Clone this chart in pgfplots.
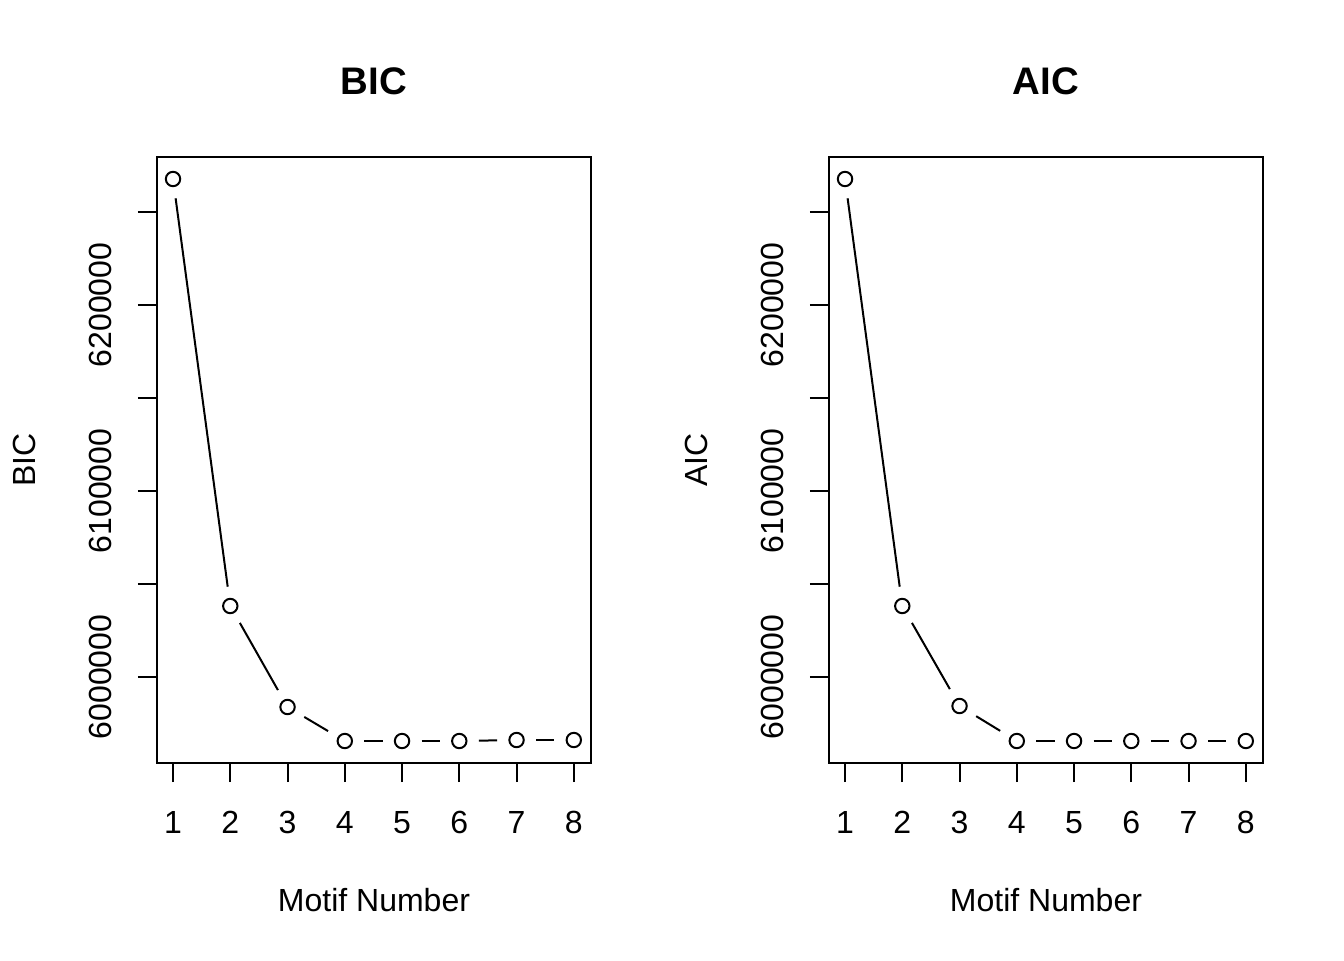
\documentclass[border=0pt]{standalone}
\usepackage{pgfplots}
\pgfplotsset{compat=1.18}
\usepackage{fontspec}
\setmainfont{Liberation Sans}

\pgfplotstableread{
x y
1 6267742
2 6038172
3 5983871
4 5965591
5 5965591
6 5965591
7 5966129
8 5966129
}\bicdata
\pgfplotstableread{
x y
1 6267742
2 6038172
3 5984409
4 5965591
5 5965591
6 5965591
7 5965591
8 5965591
}\aicdata

\pgfplotsset{
  rstyle/.style={
    scale only axis,
    width=162.75pt, height=227.25pt,
    anchor=south west,
    xmin=0.72, xmax=8.30,
    ymin=5953763, ymax=6279570,
    axis on top,
    axis line style={line width=0.75pt, black},
    every tick/.style={line width=0.75pt, black},
    tick align=outside,
    major tick length=7.2pt,
    xtick pos=bottom, ytick pos=left,
    xtick={1,2,3,4,5,6,7,8},
    xticklabels={1,2,3,4,5,6,7,8},
    ytick={6000000,6050000,6100000,6150000,6200000,6250000},
    yticklabels={6000000,,6100000,,6200000,},
    scaled y ticks=false,
    /pgf/number format/assume math mode=true,
    ticklabel style={font=\fontsize{12pt}{14pt}\selectfont},
    xticklabel style={anchor=base},
    xticklabel shift=19.2pt,
    yticklabel style={rotate=90, anchor=base},
    yticklabel shift=9.7pt,
    title style={at={(0.5,1)}, anchor=base, yshift=17.6pt, font=\fontsize{14.4pt}{17pt}\selectfont\bfseries},
    xlabel style={at={(axis description cs:0.5,0)}, anchor=base, yshift=-55.8pt, font=\fontsize{12pt}{14pt}\selectfont},
    ylabel style={at={(axis description cs:-0.281,0.5)}, anchor=base, rotate=0, font=\fontsize{12pt}{14pt}\selectfont},
    xlabel={Motif Number},
  },
  seg/.style={black, line width=0.75pt, no marks, shorten <=7.3pt, shorten >=7.3pt},
  circ/.style={only marks, mark=o, mark size=2.7pt, mark options={black, line width=0.75pt}},
}

\begin{document}
\begin{tikzpicture}
\path[use as bounding box] (0,0) rectangle (504pt,360pt);
\begin{axis}[rstyle, at={(58.875pt,73.875pt)}, title={BIC}, ylabel={BIC}]
\addplot[seg] coordinates {(1,6267742) (2,6038172)};
\addplot[seg] coordinates {(2,6038172) (3,5983871)};
\addplot[seg] coordinates {(3,5983871) (4,5965591)};
\addplot[seg] coordinates {(4,5965591) (5,5965591)};
\addplot[seg] coordinates {(5,5965591) (6,5965591)};
\addplot[seg] coordinates {(6,5965591) (7,5966129)};
\addplot[seg] coordinates {(7,5966129) (8,5966129)};
\addplot[circ] table[x=x,y=y] {\bicdata};
\end{axis}
\begin{axis}[rstyle, at={(310.875pt,73.875pt)}, title={AIC}, ylabel={AIC}]
\addplot[seg] coordinates {(1,6267742) (2,6038172)};
\addplot[seg] coordinates {(2,6038172) (3,5984409)};
\addplot[seg] coordinates {(3,5984409) (4,5965591)};
\addplot[seg] coordinates {(4,5965591) (5,5965591)};
\addplot[seg] coordinates {(5,5965591) (6,5965591)};
\addplot[seg] coordinates {(6,5965591) (7,5965591)};
\addplot[seg] coordinates {(7,5965591) (8,5965591)};
\addplot[circ] table[x=x,y=y] {\aicdata};
\end{axis}
\end{tikzpicture}
\end{document}
